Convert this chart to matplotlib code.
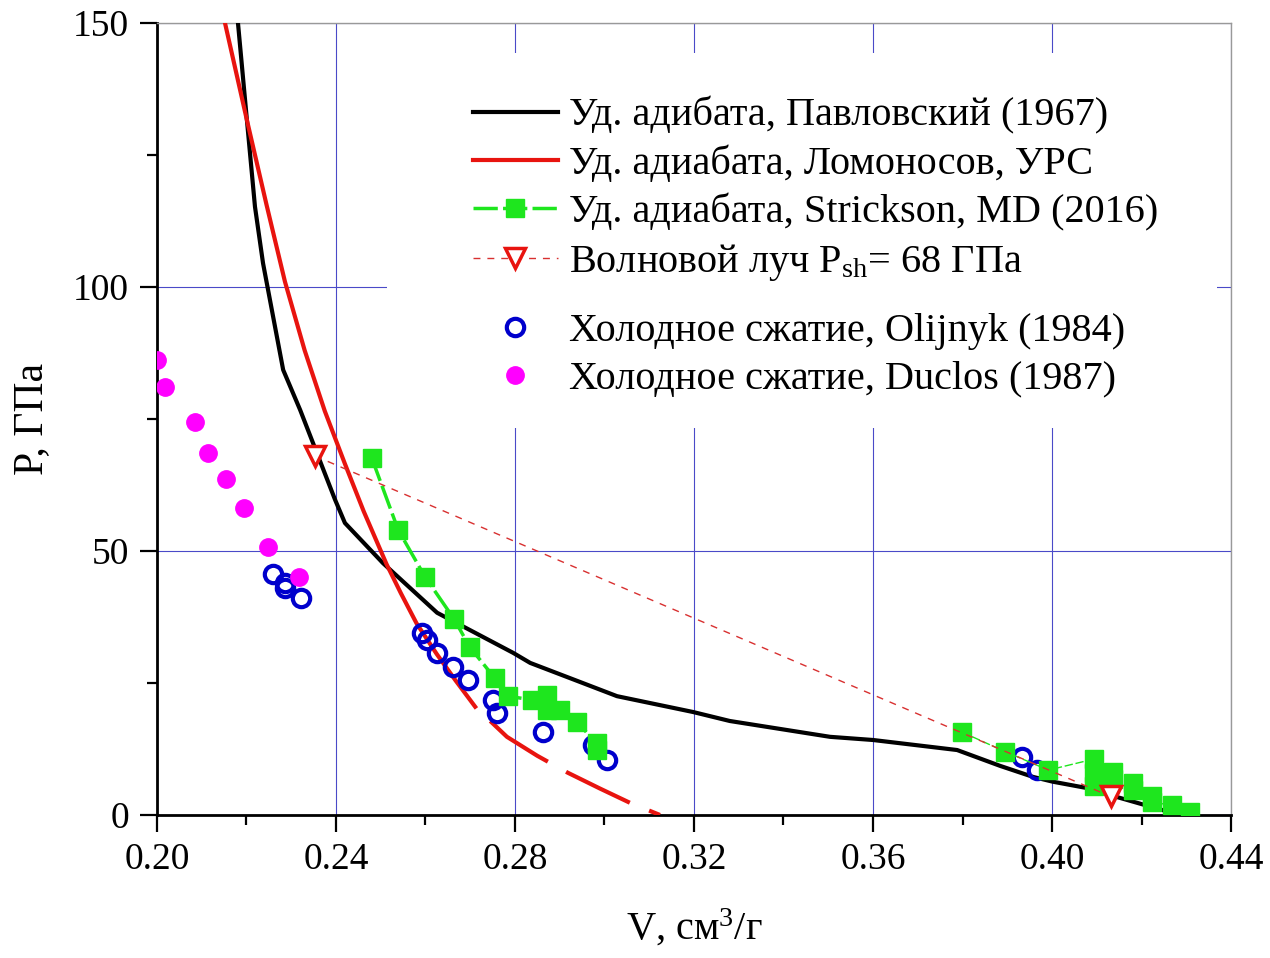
import numpy as np
import matplotlib
matplotlib.use("Agg")
import matplotlib.pyplot as plt
from matplotlib.ticker import MultipleLocator, FormatStrFormatter
from matplotlib.patches import Rectangle

# шрифты как в оригинале (Times-подобный)
plt.rcParams['font.family'] = ['Liberation Serif', 'DejaVu Serif']
plt.rcParams['mathtext.fontset'] = 'custom'
plt.rcParams['mathtext.rm'] = 'Liberation Serif'
plt.rcParams['mathtext.it'] = 'Liberation Serif:italic'

# ударная адиабата, Павловский (1967)
pav_v = [0.2181, 0.2201, 0.2219, 0.2237, 0.2282, 0.2320, 0.2398, 0.2420, 0.2505,
         0.2626, 0.2796, 0.2834, 0.2945, 0.3028, 0.3198, 0.3280, 0.3504, 0.3600,
         0.3788, 0.3884, 0.3958, 0.4002, 0.4078, 0.4145, 0.4248, 0.4282]
pav_p = [150, 131.6, 115.2, 104.5, 84.3, 76.7, 59.7, 55.3, 47.7,
         38.3, 30.7, 28.8, 25.2, 22.5, 19.5, 17.8, 14.8, 14.2,
         12.3, 9.3, 7.2, 6.3, 5.1, 3.4, 0.9, 0]

# Ломоносов, УРС (сплошная часть и пунктирное продолжение)
lom_v = [0.2152, 0.2201, 0.2245, 0.2286, 0.2330, 0.2375, 0.2420, 0.2462, 0.2513,
         0.2545, 0.2580, 0.2625, 0.2667, 0.2711]
lom_p = [150, 131.6, 115.5, 101, 88, 76.5, 66.5, 57.5, 47.5,
         42, 36.3, 30.5, 25.5, 20.5]
lom2_v = [0.2711, 0.2782, 0.2850, 0.2918, 0.2990, 0.3057, 0.3124]
lom2_p = [20.5, 14.8, 11.2, 8.0, 5.0, 2.3, 0]

# Strickson, MD (2016)
str_v = [0.2480, 0.2539, 0.2599, 0.2664, 0.2699, 0.2755, 0.2784, 0.2838, 0.2871,
         0.2871, 0.2900, 0.2938, 0.2983, 0.2983]
str_p = [67.6, 54.0, 45.1, 37.1, 31.8, 25.9, 22.5, 21.8, 22.7,
         19.9, 19.9, 17.6, 13.6, 12.3]
str2_v = [0.3799, 0.3895, 0.3992, 0.4094, 0.4094, 0.4094, 0.4136, 0.4136, 0.4181,
          0.4181, 0.4223, 0.4223, 0.4268, 0.4308]
str2_p = [15.7, 12.0, 8.5, 10.6, 8.0, 5.5, 8.1, 6.8, 6.0,
          4.8, 3.6, 2.5, 1.8, 0.5]

# волновой луч
ray_v = [0.2353, 0.4131]
ray_p = [68, 3.5]

# холодное сжатие
olj_v = [0.2260, 0.2286, 0.2286, 0.2322, 0.2592, 0.2603, 0.2626, 0.2661, 0.2695,
         0.2751, 0.2760, 0.2863, 0.2974, 0.3006, 0.3933, 0.3966]
olj_p = [45.6, 43.9, 43.0, 41.1, 34.5, 33.1, 30.7, 28.0, 25.6,
         21.8, 19.3, 15.7, 13.3, 10.4, 11.0, 8.5]
duc_v = [0.2000, 0.2018, 0.2085, 0.2114, 0.2154, 0.2194, 0.2248, 0.2317]
duc_p = [86.2, 81.1, 74.4, 68.6, 63.6, 58.1, 50.8, 45.1]

fig = plt.figure(figsize=(12.7, 9.58), dpi=100)
ax = fig.add_axes([0.1236, 0.1493, 0.8457, 0.8267])

red = '#e8140f'
green = '#1ee61e'

l1, = ax.plot(pav_v, pav_p, color='black', lw=3, zorder=3,
              label='Уд. адибата, Павловский (1967)')
l2, = ax.plot(lom_v, lom_p, color=red, lw=3, zorder=3,
              label='Уд. адиабата, Ломоносов, УРС')
ax.plot(lom2_v, lom2_p, color=red, lw=3, zorder=3, linestyle=(17, (17, 5)))
o1, = ax.plot(olj_v, olj_p, 'o', ms=12.5, mfc='none', mec='#0000cc', mew=3,
              zorder=4, label='Холодное сжатие, Olijnyk (1984)')
l3, = ax.plot(str_v, str_p, color=green, lw=2.5, dashes=(7, 1.5),
              marker='s', ms=12.5, mec=green, zorder=5,
              label='Уд. адиабата, Strickson, MD (2016)')
ax.plot(str2_v, str2_p, color=green, lw=1, dashes=(6, 2),
        marker='s', ms=12.5, mec=green, zorder=5)
l4, = ax.plot(ray_v, ray_p, color='#d83030', lw=1, dashes=(5, 5),
              marker='v', ms=14, mfc='white', mec=red, mew=2.5, zorder=5,
              label='Волновой луч P$_{\\rm sh}$= 68 ГПа')
d1, = ax.plot(duc_v, duc_p, 'o', ms=12.5, color='#ff00ff', mec='#ff00ff',
              zorder=6, label='Холодное сжатие, Duclos (1987)')

ax.set_xlim(0.20, 0.44)
ax.set_ylim(0, 150)
ax.xaxis.set_major_locator(MultipleLocator(0.04))
ax.xaxis.set_minor_locator(MultipleLocator(0.02))
ax.xaxis.set_major_formatter(FormatStrFormatter('%.2f'))
ax.yaxis.set_major_locator(MultipleLocator(50))
ax.yaxis.set_minor_locator(MultipleLocator(25))
ax.tick_params(which='both', direction='out', width=1.6, top=False, right=False)
ax.tick_params(which='major', length=12, pad=8, labelsize=27)
ax.tick_params(which='minor', length=7)

ax.grid(True, which='major', color='#4a4ac8', lw=0.8)
ax.set_axisbelow(True)

for s in ['left', 'bottom']:
    ax.spines[s].set_linewidth(2)
    ax.spines[s].set_color('black')
for s in ['top', 'right']:
    ax.spines[s].set_linewidth(1)
    ax.spines[s].set_color('#999999')

ax.set_xlabel('V, см$^3$/г', fontsize=29, labelpad=22)
ax.set_ylabel('P, ГПа', fontsize=30, labelpad=16)

# белая подложка легенды (закрывает сетку)
ax.add_patch(Rectangle((0.214, 0.489), 0.773, 0.473, transform=ax.transAxes,
                       facecolor='white', edgecolor='none', zorder=1.5))

kw = dict(loc='upper left', fontsize=29, frameon=False, borderpad=0,
          borderaxespad=0, handlelength=2.1, handletextpad=0.28,
          labelspacing=0.26)
leg1 = ax.legend(handles=[l1, l2, l3, l4], bbox_to_anchor=(0.2942, 0.907), **kw)
ax.add_artist(leg1)
leg2 = ax.legend(handles=[o1, d1], bbox_to_anchor=(0.2942, 0.634), **kw)
leg1.set_zorder(10)
leg2.set_zorder(10)

fig.savefig('out.png', dpi=100)
